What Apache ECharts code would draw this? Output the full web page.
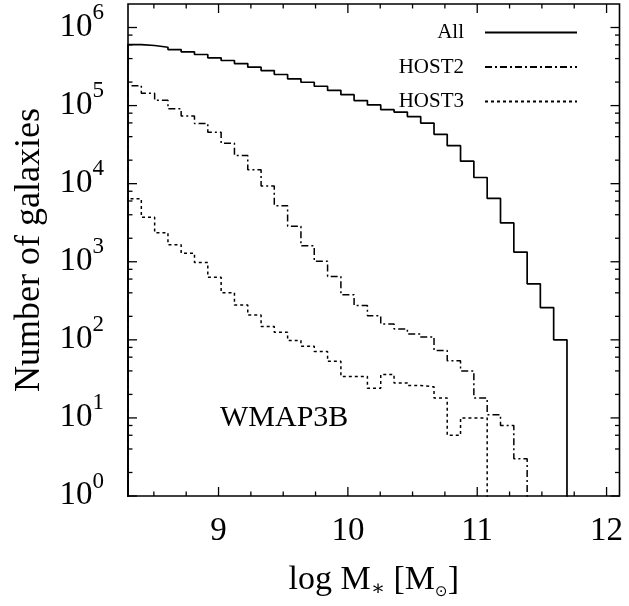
<!DOCTYPE html>
<html><head><meta charset="utf-8">
<script src="https://cdn.jsdelivr.net/npm/echarts@6/dist/echarts.min.js"></script>
<style>html,body{margin:0;padding:0;background:#fff}#c{width:629px;height:606px}</style>
</head><body><div id="c"></div>
<script>
// bin edges of the histogram (log M*)
const binEdges = [8.300, 8.403, 8.506, 8.609, 8.711, 8.814, 8.917, 9.020, 9.123, 9.226,
  9.329, 9.431, 9.534, 9.637, 9.740, 9.843, 9.946, 10.048, 10.151, 10.254,
  10.357, 10.460, 10.563, 10.666, 10.768, 10.871, 10.974, 11.077, 11.180, 11.283,
  11.386, 11.488, 11.591, 11.694];
// galaxy counts per bin
const countsAll = [605000, 588000, 559000, 522000, 488000, 451000, 409000, 378000, 345000, 310000,
  281000, 250000, 220000, 199000, 177000, 157000, 138000, 116000, 102000, 88900,
  82600, 72300, 59700, 42900, 30700, 19400, 12000, 6480, 3140, 1330,
  522, 259, 100];
const countsHost2 = [180000, 144000, 117000, 91000, 73800, 58800, 45500, 33000, 23000, 15100,
  9350, 5220, 2850, 1600, 1015, 648, 378, 275, 203, 160,
  138, 119, 109, 73, 54, 40, 18, 11, 8, 3,
  0, 0, 0];
const countsHost3 = [6420, 3720, 2350, 1650, 1285, 980, 632, 401, 279, 208,
  148, 125, 98, 83, 71, 53, 34, 34, 24, 36,
  28, 26, 25, 18, 6, 10, 10, 0, 0, 0,
  0, 0, 0];
const seriesNames = ['All', 'HOST2', 'HOST3'];
// axis ticks
const xTicksMajor = [9, 10, 11, 12];
const xTicksMinor = [8.5, 8.75, 9.25, 9.5, 9.75, 10.25, 10.5, 10.75, 11.25, 11.5, 11.75];
const yTicksMajor = [1, 10, 100, 1000, 10000, 100000, 1000000];
const yTicksMinor = [2, 4, 6, 8, 20, 40, 60, 80, 200, 400, 600, 800, 2000, 4000, 6000, 8000,
  20000, 40000, 60000, 80000, 200000, 400000, 600000, 800000];
const annotation = 'WMAP3B';

const FONT = 'Liberation Serif';
const FLOOR = 0.01; // below the axis, used for empty bins (clipped)

function histSteps(counts) {
  let last = counts.length - 1;
  while (last >= 0 && counts[last] === 0) last--;
  const pts = [[binEdges[0], FLOOR]];
  for (let i = 0; i <= last; i++) pts.push([binEdges[i], counts[i]]);
  pts.push([binEdges[last + 1], counts[last]]);
  pts.push([binEdges[last + 1], FLOOR]);
  return pts;
}

function isPow10(v) {
  const l = Math.log10(v);
  return Math.abs(l - Math.round(l)) < 1e-6;
}

const chart = echarts.init(document.getElementById('c'), null, {renderer: 'canvas'});

const tickData = [];
xTicksMajor.forEach(v => tickData.push([v, 1, 0, 0]));
xTicksMinor.forEach(v => tickData.push([v, 1, 0, 1]));
yTicksMajor.forEach(v => tickData.push([9, v, 1, 0]));
yTicksMinor.forEach(v => tickData.push([9, v, 1, 1]));

const lineBase = {type: 'line', step: 'end', symbol: 'none', showSymbol: false, clip: true,
  animation: false, color: '#000', z: 3};

chart.setOption({
  backgroundColor: '#fff',
  animation: false,
  grid: {left: 128, right: 9.5, top: 4, bottom: 110, show: true, borderColor: '#000', borderWidth: 1.6, backgroundColor: 'transparent', z: 5},
  xAxis: {
    type: 'value', min: 8.3, max: 12.1,
    axisLine: {show: false}, axisTick: {show: false}, splitLine: {show: false},
    axisLabel: {
      fontFamily: FONT, fontSize: 33, color: '#000', margin: 19,
      formatter: v => (Math.abs(v - Math.round(v)) < 1e-9 ? String(Math.round(v)) : '')
    },
    name: '{a|log M}{s|∗} {a|[M}{u|⊙}{a|]}',
    nameLocation: 'middle', nameGap: 64,
    nameTextStyle: {
      fontFamily: FONT, fontSize: 34, color: '#000',
      rich: {
        a: {fontFamily: FONT, fontSize: 34, color: '#000', lineHeight: 40},
        s: {fontFamily: 'DejaVu Serif', fontSize: 21, color: '#000', verticalAlign: 'bottom', lineHeight: 26},
        u: {fontFamily: 'DejaVu Sans', fontSize: 15, color: '#000', verticalAlign: 'bottom', lineHeight: 14}
      }
    }
  },
  yAxis: {
    type: 'log', logBase: 10, min: 1, max: 2000000,
    axisLine: {show: false}, axisTick: {show: false}, splitLine: {show: false}, minorTick: {show: false},
    axisLabel: {
      margin: 24,
      padding: [0, 0, 10, 0],
      formatter: v => isPow10(v) ? '{b|10}{s|' + Math.round(Math.log10(v)) + '}' : '',
      rich: {
        b: {fontFamily: FONT, fontSize: 33, color: '#000', lineHeight: 42, verticalAlign: 'bottom'},
        s: {fontFamily: FONT, fontSize: 23, color: '#000', verticalAlign: 'top', lineHeight: 24}
      }
    },
    name: 'Number of galaxies', nameLocation: 'middle', nameGap: 80,
    nameTextStyle: {fontFamily: FONT, fontSize: 36, color: '#000'}
  },
  legend: {
    data: seriesNames, orient: 'vertical', align: 'right', right: 51, top: 22, padding: 0,
    itemWidth: 92, itemHeight: 14, itemGap: 13.5, selectedMode: false,
    itemStyle: {opacity: 0},
    textStyle: {fontFamily: FONT, fontSize: 21, color: '#000', padding: [0, 16, 0, 0]}
  },
  graphic: [{
    type: 'text', left: 220, top: 403, silent: true,
    style: {text: annotation, fontFamily: FONT, fontSize: 30, fill: '#000'}
  }],
  series: [
    Object.assign({}, lineBase, {name: seriesNames[0], data: histSteps(countsAll),
      lineStyle: {color: '#000', width: 1.7, type: 'solid'}}),
    Object.assign({}, lineBase, {name: seriesNames[1], data: histSteps(countsHost2),
      lineStyle: {color: '#000', width: 1.5, type: [7, 3, 2, 3]}}),
    Object.assign({}, lineBase, {name: seriesNames[2], data: histSteps(countsHost3),
      lineStyle: {color: '#000', width: 1.5, type: [3, 3]}}),
    {
      type: 'custom', name: 'ticks', silent: true, animation: false, clip: false, z: 6,
      data: tickData,
      renderItem: function (params, api) {
        const cs = params.coordSys;
        const isY = api.value(2) === 1;
        const len = api.value(3) === 0 ? 9 : 4.5;
        const style = {stroke: '#000', lineWidth: 1.3};
        if (!isY) {
          const px = api.coord([api.value(0), 10])[0];
          return {type: 'group', children: [
            {type: 'line', shape: {x1: px, y1: cs.y + cs.height, x2: px, y2: cs.y + cs.height - len}, style: style},
            {type: 'line', shape: {x1: px, y1: cs.y, x2: px, y2: cs.y + len}, style: style}
          ]};
        }
        const py = api.coord([9, api.value(1)])[1];
        return {type: 'group', children: [
          {type: 'line', shape: {x1: cs.x, y1: py, x2: cs.x + len, y2: py}, style: style},
          {type: 'line', shape: {x1: cs.x + cs.width, y1: py, x2: cs.x + cs.width - len, y2: py}, style: style}
        ]};
      }
    }
  ]
});
</script>
</body></html>
